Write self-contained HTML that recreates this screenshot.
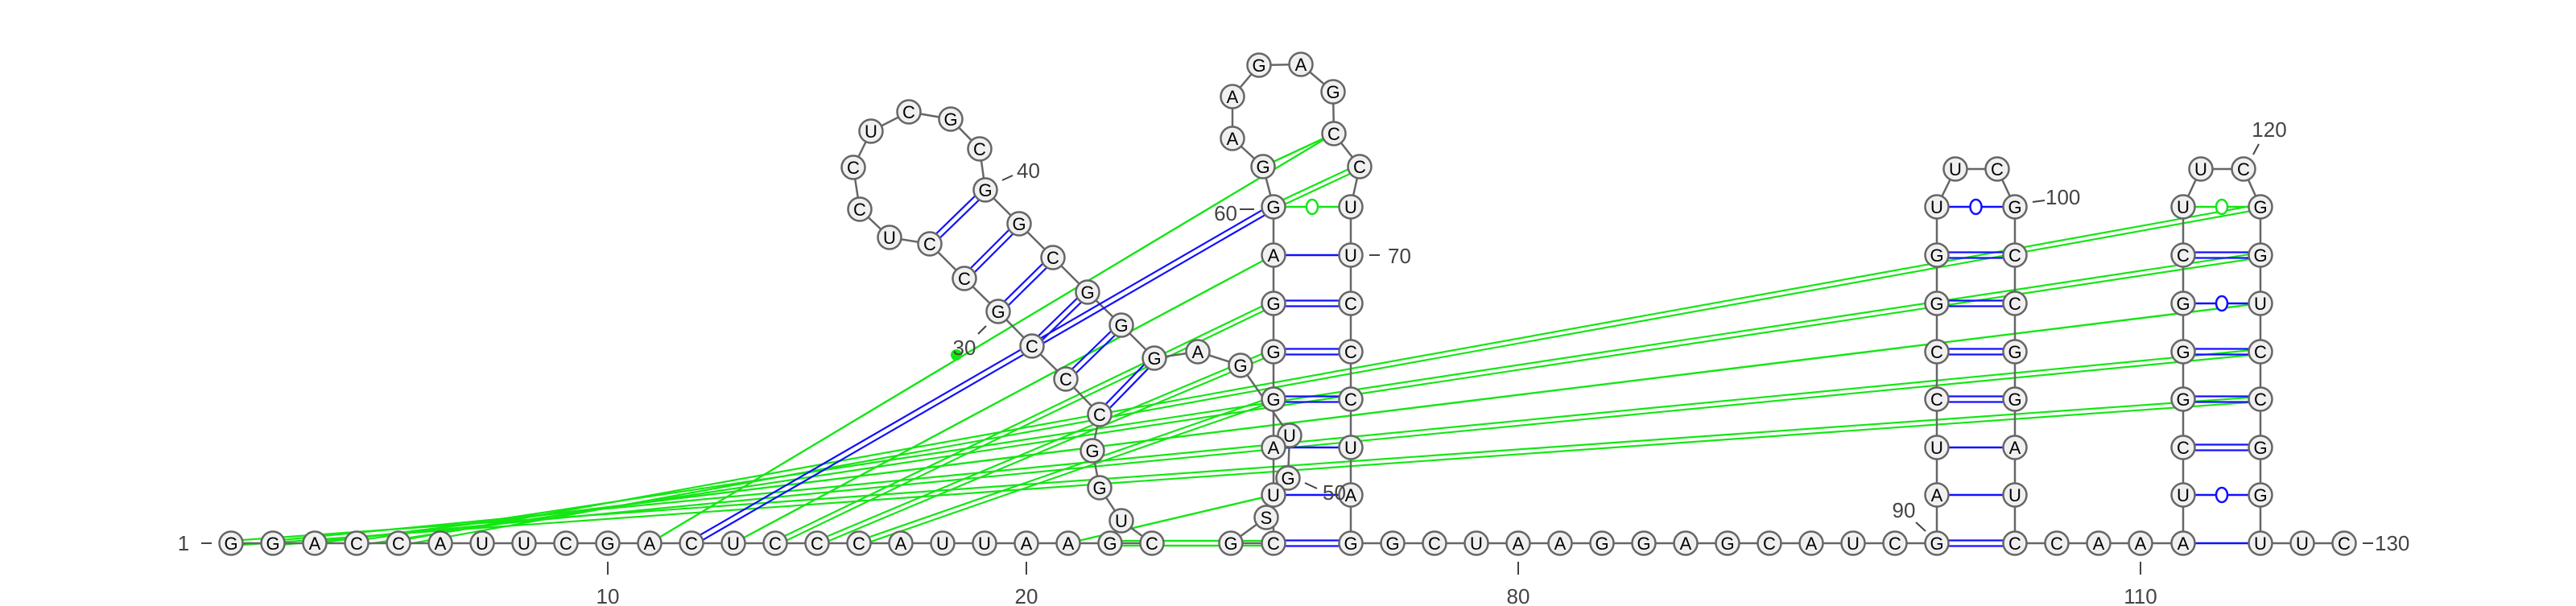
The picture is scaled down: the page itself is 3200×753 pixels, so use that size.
<!DOCTYPE html>
<html><head><meta charset="utf-8"><style>
html,body{margin:0;padding:0;background:#fff;}
svg{display:block;font-family:"Liberation Sans",sans-serif;}
</style></head><body>
<svg id="rna" width="3200" height="753" viewBox="0 0 3200 753" xmlns="http://www.w3.org/2000/svg">
<g id="gGreen"></g>
<g id="gBack"></g>
<g id="gBlue"></g>
<g id="gNodes"></g>
<g id="gLabels" fill="#444" font-size="26"></g>
</svg>
<script>
// ---- layout (sequence order) ----
const rows=[675,615,556,496,437,377,317,257];
const baseSeq="GGACCAUUCGACUCCCAUUAAGC";
const hairpinSeq="UGGCCCGCCUCCUCGCGGCGGGAG";
const hairpinPos=[[1393,647],[1366,606],[1357,560],[1366,515],[1324,471],[1282,430],[1240,387],[1198,346],[1155,303],[1105,295],[1068,260],[1060,208],[1082,163],[1129,139],[1181,148],[1217,185],[1224,236],[1266,278],[1308,320],[1351,363],[1393,404],[1434,445],[1488,437],[1541,454]];
const linkSeq="UGSG";
const linkPos=[[1602,541],[1600,594],[1573,643],[1529,675]];
const stem2Left="CUAGGGAG", stem2Loop="GAAGAGCC", stem2Right="UUCCCUAG";
const stem2LoopPos=[[1569,207],[1531,172],[1531,120],[1564,81],[1616,80],[1656,114],[1657,166],[1689,207]];
const midSeq="GCUAAGGAGCAUC";
const stem3Left="GAUCCGGU", stem3Loop="UC", stem3Right="GCCGGAUC";
const gap34="CAA";
const stem4Left="AUCGGGCU", stem4Loop="UC", stem4Right="GGUCCGGU";
const tailSeq="UC";

const nodes=[];
function add(ch,x,y){nodes.push({ch,x,y});}
for(let k=0;k<baseSeq.length;k++) add(baseSeq[k],287+52*k,675);
hairpinSeq.split('').forEach((c,k)=>add(c,hairpinPos[k][0],hairpinPos[k][1]));
linkSeq.split('').forEach((c,k)=>add(c,linkPos[k][0],linkPos[k][1]));
stem2Left.split('').forEach((c,k)=>add(c,1582,rows[k]));
stem2Loop.split('').forEach((c,k)=>add(c,stem2LoopPos[k][0],stem2LoopPos[k][1]));
stem2Right.split('').forEach((c,k)=>add(c,1678,rows[7-k]));
midSeq.split('').forEach((c,k)=>add(c,1730+52*k,675));
stem3Left.split('').forEach((c,k)=>add(c,2406,rows[k]));
add(stem3Loop[0],2429,210); add(stem3Loop[1],2481,210);
stem3Right.split('').forEach((c,k)=>add(c,2503,rows[7-k]));
gap34.split('').forEach((c,k)=>add(c,2555+52*k,675));
stem4Left.split('').forEach((c,k)=>add(c,2712,rows[k]));
add(stem4Loop[0],2734,210); add(stem4Loop[1],2787,210);
stem4Right.split('').forEach((c,k)=>add(c,2808,rows[7-k]));
tailSeq.split('').forEach((c,k)=>add(c,2860+52*k,675));

// ---- pairs: [i, j, type] type: d=double, s=single, o=wobble ----
const bluePairs=[[31,39,'d'],[30,40,'d'],[29,41,'d'],[28,42,'d'],[27,43,'d'],[26,44,'d'],[11,58,'d']];
const stem2Types="dssdddso", stem3Types="dssddddo", stem4Types="sodddodo";
const greenPairs=[[4,119,'d'],[3,120,'d'],[2,121,'s'],[1,122,'d'],[0,123,'d'],
 [12,57,'s'],[13,56,'d'],[14,55,'d'],[15,54,'d'],[20,52,'s'],[21,51,'d'],[22,50,'d'],
 [58,66,'d'],[10,65,'s'],[59,65,'s']];
for(let k=0;k<8;k++){
  const t2=stem2Types[k]; (k===7?greenPairs:bluePairs).push([51+k,74-k,t2]);
  bluePairs.push([88+k,105-k,stem3Types[k]]);
  (k===7?greenPairs:bluePairs).push([109+k,126-k,stem4Types[k]]);
}

const NS="http://www.w3.org/2000/svg";
function mk(tag,attrs,parent){const e=document.createElementNS(NS,tag);for(const a in attrs)e.setAttribute(a,attrs[a]);parent.appendChild(e);return e;}

function drawPair(p,color,g,off){
  const a=nodes[p[0]],b=nodes[p[1]];
  const dx=b.x-a.x,dy=b.y-a.y,L=Math.hypot(dx,dy),nx=-dy/L,ny=dx/L;
  if(p[2]==='d'){
    for(const s of [-off,off]){
      const l=mk('line',{x1:a.x+nx*s,y1:a.y+ny*s,x2:b.x+nx*s,y2:b.y+ny*s,stroke:color,'stroke-width':2.2},g);
      
      
    }
  } else {
    const l=mk('line',{x1:a.x,y1:a.y,x2:b.x,y2:b.y,stroke:color,'stroke-width':2.4},g);
    
    
    if(p[2]==='o'){
      const e=mk('ellipse',{cx:(a.x+b.x)/2,cy:(a.y+b.y)/2,rx:7,ry:9,fill:'#fff',stroke:color,'stroke-width':2.5},g);
      
      
    }
  }
}
const gG=document.getElementById('gGreen'),gB=document.getElementById('gBlue'),gK=document.getElementById('gBack'),gN=document.getElementById('gNodes'),gL=document.getElementById('gLabels');
greenPairs.forEach(p=>drawPair(p,'#14e614',gG,3));
const dot=mk('circle',{cx:1188,cy:441,r:7,fill:'#14e614'},gG);


for(let i=0;i<nodes.length-1;i++){
  const a=nodes[i],b=nodes[i+1];
  const l=mk('line',{x1:a.x,y1:a.y,x2:b.x,y2:b.y,stroke:'#666','stroke-width':2.5},gK);
  
  
}
bluePairs.forEach(p=>drawPair(p,'#1010ff',gB,3.5));
nodes.forEach((n,i)=>{
  const g=mk('g',{},gN);
  
  
  mk('circle',{cx:n.x,cy:n.y,r:14.5,fill:'#f0f0f0',stroke:'#666','stroke-width':2.5},g);
  const t=mk('text',{x:n.x,y:n.y+8,'text-anchor':'middle','font-size':22,fill:'#000'},g);
  t.textContent=n.ch;
});
// ---- labels ----
const lbls=[["1",228,684,"middle"],["10",755,750,"middle"],["20",1275,750,"middle"],["80",1886,750,"middle"],["110",2659,750,"middle"],
 ["30",1198,441,"middle"],["40",1263,221,"start"],["50",1643,621,"start"],["60",1537,274,"end"],["70",1724,327,"start"],
 ["90",2365,643,"middle"],["100",2541,254,"start"],["120",2819,170,"middle"],["130",2950,684,"start"]];
lbls.forEach(l=>{const t=mk('text',{x:l[1],y:l[2],'text-anchor':l[3]},gL);t.textContent=l[0];
  
  });
const ticks=[[250,675,263,675],[755,698,755,714],[1275,698,1275,714],[1886,698,1886,714],[2659,698,2659,714],
 [1215,415,1225,405],[1245,224,1258,218],[1621,600,1636,607],[1540,260,1558,260],[1701,317,1714,317],
 [2380,649,2392,660],[2525,251,2540,249],[2806,179,2799,192],[2935,675,2948,675]];
ticks.forEach(k=>{const l=mk('line',{x1:k[0],y1:k[1],x2:k[2],y2:k[3],stroke:'#444','stroke-width':2},gL);
  
  });
</script>
</body></html>
